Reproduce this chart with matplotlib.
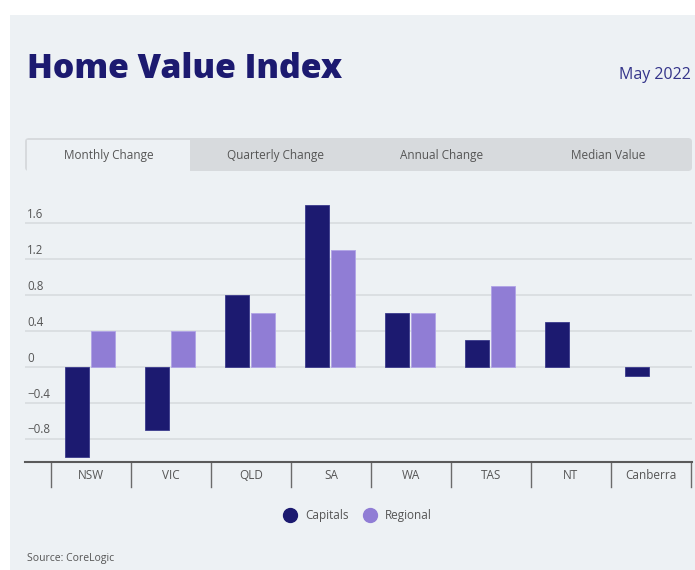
import matplotlib
matplotlib.use("Agg")
import matplotlib.pyplot as plt
import matplotlib.transforms as mtrans
import numpy as np
from matplotlib.patches import Rectangle, FancyBboxPatch
from matplotlib.lines import Line2D

# data (monthly change, %)
regions = ["NSW", "VIC", "QLD", "SA", "WA", "TAS", "NT", "Canberra"]
capitals = [-1.0, -0.7, 0.8, 1.8, 0.6, 0.3, 0.5, -0.1]
regional = [0.4, 0.4, 0.6, 1.3, 0.6, 0.9, np.nan, np.nan]
yticks = [-0.8, -0.4, 0, 0.4, 0.8, 1.2, 1.6]
ytick_labels = ["\u22120.8", "\u22120.4", "0", "0.4", "0.8", "1.2", "1.6"]
tabs = ["Monthly Change", "Quarterly Change", "Annual Change", "Median Value"]

W, H = 695, 570
bg = "#edf1f4"
navy = "#1c1a70"
lilac = "#907dd5"
grey_txt = "#555555"

plt.rcParams["font.family"] = ["Open Sans", "DejaVu Sans"]

fig = plt.figure(figsize=(W / 100, H / 100), dpi=100, facecolor="white")


def fx(px):
    return px / W


def fy(py):
    return 1 - py / H


# panel background
fig.patches.append(Rectangle((fx(10), 0), 1 - fx(10), fy(15), transform=fig.transFigure,
                             facecolor=bg, edgecolor="none", zorder=0))

# header
fig.text(fx(27), fy(69), "Home Value Index", fontsize=24.3, fontweight="heavy",
         color=navy, va="center", ha="left")
fig.text(fx(691), fy(75), "May 2022", fontsize=11.5, color="#34348a", va="center", ha="right")

# tab strip
fig.patches.append(FancyBboxPatch((fx(25), fy(171)), fx(692) - fx(25), fy(138) - fy(171),
                                  boxstyle="round,pad=0,rounding_size=0.006",
                                  transform=fig.transFigure, facecolor="#d7dadd",
                                  edgecolor="none", zorder=1))
fig.patches.append(Rectangle((fx(27), fy(171)), fx(190) - fx(27), fy(140) - fy(171),
                             transform=fig.transFigure, facecolor=bg, edgecolor="none", zorder=2))
tab_w = (692 - 25) / len(tabs)
for i, t in enumerate(tabs):
    fig.text(fx(25 + tab_w * (i + 0.5)), fy(159), t, fontsize=8.5, color=grey_txt,
             ha="center", va="baseline", zorder=3)

# chart axes
ax = fig.add_axes([fx(25), fy(462), fx(692) - fx(25), fy(190) - fy(462)], zorder=5)
ax.set_facecolor("none")
x = np.arange(len(regions))
bw = 0.3
ax.bar(x - 0.175, capitals, bw, color=navy, edgecolor="#3b3a8c", linewidth=0.6, zorder=3)
ax.bar(x + 0.145, regional, bw, color=lilac, edgecolor="#b0a3e6", linewidth=0.6, zorder=3)

ax.set_xlim(-0.825, 7.5125)
ax.set_ylim(-1.06, 1.97)
ytrans = mtrans.blended_transform_factory(fig.transFigure, ax.transData)
for v, lab in zip(yticks, ytick_labels):
    ax.axhline(v, color="#d8dcdf", linewidth=1.2, zorder=1)
    ax.text(fx(27), v + 0.025, lab, transform=ytrans,
            fontsize=8.3, color=grey_txt, ha="left", va="bottom")
ax.set_yticks([])
ax.set_xticks([])
for s in ["top", "right", "left"]:
    ax.spines[s].set_visible(False)
ax.spines["bottom"].set_color("#5a5a5a")
ax.spines["bottom"].set_linewidth(1.5)

# category dividers and labels below axis
trans = mtrans.blended_transform_factory(ax.transData, fig.transFigure)
for i in range(len(regions) + 1):
    ax.plot([i - 0.5, i - 0.5], [fy(462), fy(487)], transform=trans, color="#6b6b6b",
            linewidth=1, clip_on=False)
for i, r in enumerate(regions):
    ax.text(i, fy(479), r, transform=trans, ha="center", va="baseline", fontsize=8.5,
            color=grey_txt)

# legend
handles = [Line2D([], [], marker="o", linestyle="none", markersize=10, color=navy, label="Capitals"),
           Line2D([], [], marker="o", linestyle="none", markersize=10, color=lilac, label="Regional")]
fig.legend(handles=handles, loc="center", bbox_to_anchor=(fx(355), fy(516)), ncol=2,
           frameon=False, fontsize=8.5, handletextpad=0.3, columnspacing=0.8,
           labelcolor=grey_txt)

fig.text(fx(27), fy(558), "Source: CoreLogic", fontsize=7.5, color=grey_txt, ha="left", va="center")

fig.savefig("out.png", dpi=100, facecolor="white")
